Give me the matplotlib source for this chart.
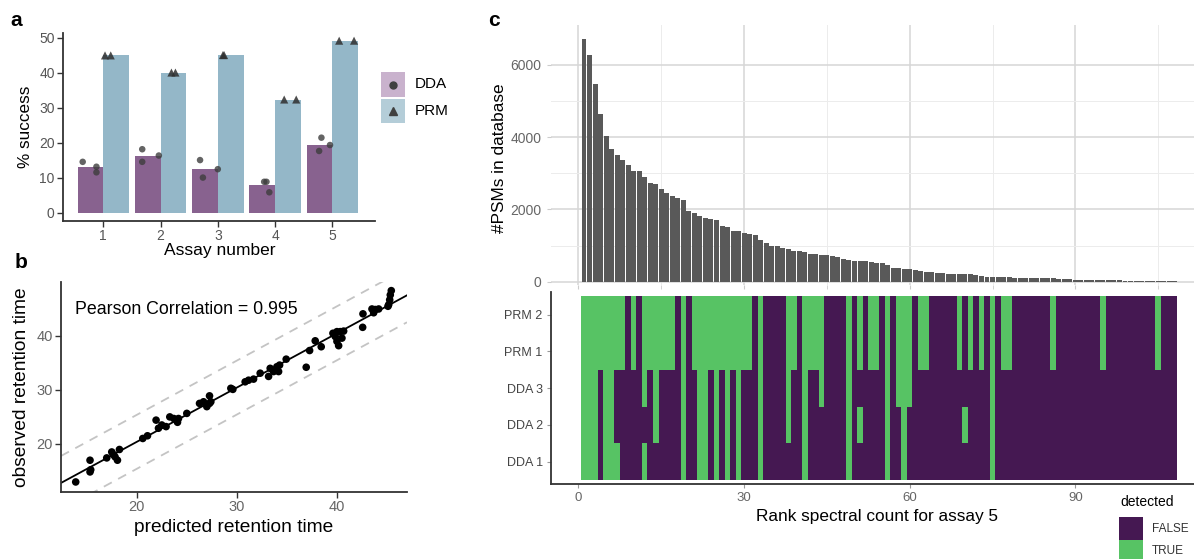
import numpy as np
import matplotlib
matplotlib.use('Agg')
import matplotlib.pyplot as plt
from matplotlib.colors import ListedColormap
from matplotlib.patches import Rectangle
from matplotlib.lines import Line2D

plt.rcParams['font.family'] = ['Liberation Sans', 'DejaVu Sans']

# ---------------- data ----------------
# panel a
assays = [1, 2, 3, 4, 5]
dda_reps = [[14.5, 13.1, 11.5], [18.1, 14.5, 16.3], [15.0, 10.0, 12.4], [8.8, 8.8, 5.8], [21.4, 17.6, 19.3]]
dda_jitter = [[-0.36, -0.12, -0.12], [-0.32, -0.32, -0.03], [-0.31, -0.26, 0.0], [-0.19, -0.15, -0.10], [-0.19, -0.23, -0.04]]
prm_reps = [[44.9, 44.9], [40.0, 40.0], [45.0, 45.0], [32.3, 32.3], [49.1, 49.1]]
prm_jitter = [[0.03, 0.13], [0.19, 0.26], [0.09, 0.11], [0.16, 0.37], [0.12, 0.38]]

# panel b
pred = [13.9, 15.33, 15.33, 15.4, 17.0, 17.5, 17.67, 18.07, 18.27, 17.83, 20.6, 21.07, 21.93, 22.17, 22.5,
        22.93, 23.3, 23.7, 24.07, 24.17, 25.0, 26.27, 26.67, 27.0, 27.27, 27.4, 27.27, 29.4, 29.6, 30.83, 31.17,
        31.67, 32.33, 33.17, 33.33, 33.67, 34.0, 34.27, 34.17, 34.93, 36.93, 37.27, 37.83, 38.43, 39.6, 39.83,
        40.0, 40.17, 40.33, 40.67, 40.5, 40.0, 42.6, 42.57, 43.5, 43.67, 43.83, 44.17, 45.17, 45.27, 45.33,
        45.43, 45.1]
obs = [12.94, 14.8, 16.97, 15.2, 17.4, 18.5, 18.0, 16.97, 18.96, 17.6, 21.0, 21.5, 24.4, 22.9, 23.5,
       23.2, 25.0, 24.7, 24.0, 24.7, 25.65, 27.5, 27.8, 26.9, 28.9, 27.8, 27.5, 30.3, 30.1, 31.5, 31.8,
       32.0, 33.1, 32.5, 34.0, 33.4, 34.3, 34.6, 33.4, 35.7, 34.2, 37.3, 39.1, 38.0, 40.5, 39.9,
       39.0, 38.2, 40.8, 40.9, 39.6, 40.8, 44.1, 41.6, 45.0, 44.3, 44.9, 45.0, 45.8, 46.7, 47.6,
       48.4, 45.5]
pearson_label = "Pearson Correlation = 0.995"

# panel c
psm_counts = [6720, 6260, 5470, 4630, 4030, 3660, 3500, 3360, 3220, 3060,
              3050, 2900, 2730, 2700, 2560, 2460, 2360, 2320, 2250, 1960,
              1890, 1810, 1750, 1740, 1700, 1540, 1500, 1410, 1400, 1360,
              1310, 1290, 1150, 1060, 990, 980, 920, 900, 860, 850,
              810, 780, 760, 740, 730, 720, 690, 630, 600, 580,
              575, 570, 540, 530, 525, 455, 390, 373, 364, 345,
              318, 300, 255, 255, 250, 250, 210, 209, 205, 205,
              200, 190, 145, 136, 135, 127, 118, 118, 116, 109,
              108, 100, 100, 99, 91, 90, 82, 73, 64, 55,
              55, 54, 45, 45, 44, 36, 36, 35, 27, 26,
              25, 25, 24, 23, 18, 18, 17, 16]
ranks = np.arange(1, len(psm_counts) + 1)
row_labels = ['DDA 1', 'DDA 2', 'DDA 3', 'PRM 1', 'PRM 2']
green_dda1 = [1, 2, 3, 5, 6, 7, 12, 19, 22, 23, 25, 27, 29, 33, 41, 49, 56, 59, 75]
green_dda2 = [1, 2, 3, 5, 6, 14, 19, 22, 23, 25, 27, 29, 33, 38, 41, 49, 51, 56, 59, 70, 75]
green_dda3 = [1, 2, 3, 5, 6, 12, 14, 19, 22, 23, 25, 27, 29, 33, 38, 41, 44, 49, 56, 58, 59, 60, 75]
green_prm = [1, 2, 3, 4, 5, 6, 7, 8, 10, 12, 13, 14, 15, 16, 17, 19, 21, 22, 23, 24, 25, 26, 27, 28, 29,
             30, 31, 33, 38, 39, 41, 42, 43, 44, 49, 51, 53, 54, 56, 58, 59, 60, 62, 63, 69, 71, 73, 75,
             77, 78, 86, 95, 105]
green_prm1 = list(green_prm)
green_prm2 = list(green_prm)

# ---------------- layout helpers ----------------
W, H = 1194, 559
fig = plt.figure(figsize=(W / 100, H / 100), dpi=100)


def box(l, t, r, b):
    return [l / W, 1 - b / H, (r - l) / W, (b - t) / H]


def fx(px):
    return px / W


def fy(py):
    return 1 - py / H


SP = '#333333'
TICKC = '#555555'

# ---------------- panel a ----------------
axA = fig.add_axes(box(63, 33, 375, 221))
dda_mean = [np.mean(r) for r in dda_reps]
prm_mean = [np.mean(r) for r in prm_reps]
xa = np.array(assays, dtype=float)
axA.bar(xa - 0.225, dda_mean, width=0.45, color='#88628F', zorder=1)
axA.bar(xa + 0.225, prm_mean, width=0.45, color='#94B7C8', zorder=1)
for i, a in enumerate(assays):
    axA.scatter([a + j for j in dda_jitter[i]], dda_reps[i], s=22, color='#3d3d3d', alpha=0.8,
                edgecolors='none', zorder=3)
    axA.scatter([a + j for j in prm_jitter[i]], prm_reps[i], s=34, marker='^', color='#2f2f2f',
                alpha=0.85, edgecolors='none', zorder=3)
axA.set_xlim(0.296, 5.746)
axA.set_ylim(-2.4, 51.3)
axA.set_xticks(assays)
axA.set_yticks([0, 10, 20, 30, 40, 50])
for s in ['top', 'right']:
    axA.spines[s].set_visible(False)
for s in ['left', 'bottom']:
    axA.spines[s].set_color(SP)
    axA.spines[s].set_linewidth(1.3)
axA.tick_params(length=4, width=1, color=SP, labelcolor=TICKC, labelsize=10, pad=2)
fig.text(fx(220), fy(251), 'Assay number', ha='center', va='center', fontsize=12.5)
fig.text(fx(26), fy(127), '% success', ha='center', va='center', rotation=90, fontsize=12.3)

# legend a
for (t, b, col, mk, lab) in [(72, 97, '#C9B2CD', 'o', 'DDA'), (99, 123, '#B4CDD8', '^', 'PRM')]:
    fig.add_artist(Rectangle((fx(381), fy(b)), (405 - 381) / W, (b - t) / H, transform=fig.transFigure,
                             facecolor=col, edgecolor='none'))
    fig.add_artist(Line2D([fx(393)], [fy((t + b) / 2)], marker=mk, markersize=5 if mk == 'o' else 6,
                          color='#404040', linestyle='none', transform=fig.transFigure))
    fig.text(fx(415), fy((t + b) / 2), lab, ha='left', va='center', fontsize=11)

# ---------------- panel b ----------------
axB = fig.add_axes(box(61, 282, 407, 492))
axB.scatter(pred, obs, s=30, color='black', edgecolors='none', zorder=3)
coef = np.polyfit(pred, obs, 1)
xl = np.array([12.43, 47.0])
axB.plot(xl, np.polyval(coef, xl), color='black', lw=1.3, zorder=2)
axB.plot(xl, np.polyval(coef, xl) + 5, color='#C4C4C4', lw=1.3, dashes=(5, 4), zorder=1)
axB.plot(xl, np.polyval(coef, xl) - 5, color='#C4C4C4', lw=1.3, dashes=(5, 4), zorder=1)
axB.set_xlim(12.43, 47.0)
axB.set_ylim(11.08, 50.0)
axB.set_xticks([20, 30, 40])
axB.set_yticks([20, 30, 40])
for s in ['top', 'right']:
    axB.spines[s].set_visible(False)
for s in ['left', 'bottom']:
    axB.spines[s].set_color(SP)
    axB.spines[s].set_linewidth(1.3)
axB.tick_params(length=4, width=1, color=SP, labelcolor='#666666', labelsize=10.5, pad=2)
axB.text(13.83, 44.85, pearson_label, ha='left', va='center', fontsize=12.8)
fig.text(fx(234), fy(528), 'predicted retention time', ha='center', va='center', fontsize=13.8)
fig.text(fx(22), fy(387), 'observed retention time', ha='center', va='center', rotation=90, fontsize=13.8)

# ---------------- panel c (bars) ----------------
XL = (-4.98, 111.5)
axC1 = fig.add_axes(box(551, 25, 1194, 285))
axC1.bar(ranks, psm_counts, width=0.9, color='#595959', zorder=2)
axC1.set_xlim(*XL)
axC1.set_ylim(-91, 7100)
axC1.set_xticks([0, 30, 60, 90])
axC1.set_xticks([15, 45, 75, 105], minor=True)
axC1.set_yticks([0, 2000, 4000, 6000])
axC1.set_yticks([1000, 3000, 5000], minor=True)
axC1.grid(which='major', color='#D6D6D6', lw=1.1)
axC1.grid(which='minor', color='#ECECEC', lw=0.7)
axC1.set_axisbelow(True)
for s in axC1.spines.values():
    s.set_visible(False)
axC1.tick_params(axis='x', which='both', length=3, color='#CCCCCC', labelbottom=False)
axC1.tick_params(axis='y', which='major', length=3, color='#CCCCCC', labelcolor='#666666', labelsize=10, pad=4)
axC1.tick_params(axis='y', which='minor', length=0)
fig.text(fx(499), fy(158), '#PSMs in database', ha='center', va='center', rotation=90, fontsize=12.4)

# ---------------- panel c (heatmap) ----------------
axC2 = fig.add_axes(box(551, 292, 1194, 484))
n = len(psm_counts)
rows_green = [green_dda1, green_dda2, green_dda3, green_prm1, green_prm2]
mat = np.zeros((5, n))
for r, g in enumerate(rows_green):
    for c in g:
        mat[r, c - 1] = 1
cmap = ListedColormap(['#451852', '#57C364'])
xe = np.arange(0.5, n + 1.0, 1.0)
ye = np.arange(0.5, 6.0, 1.0)
axC2.pcolormesh(xe, ye, mat, cmap=cmap, vmin=0, vmax=1, shading='flat', edgecolors='none',
                antialiased=False)
axC2.set_xlim(*XL)
axC2.set_ylim(0.389, 5.62)
axC2.set_xticks([0, 30, 60, 90])
axC2.set_yticks([1, 2, 3, 4, 5])
axC2.set_yticklabels(row_labels)
for s in ['top', 'right']:
    axC2.spines[s].set_visible(False)
for s in ['left', 'bottom']:
    axC2.spines[s].set_color(SP)
    axC2.spines[s].set_linewidth(1.3)
axC2.tick_params(axis='x', length=3, color='#999999', labelcolor='#666666', labelsize=9.5, pad=3)
axC2.tick_params(axis='y', length=3, color='#999999', labelcolor='#444444', labelsize=9, pad=3)
fig.text(fx(877), fy(517), 'Rank spectral count for assay 5', ha='center', va='center', fontsize=12.4)

# legend c
fig.text(fx(1120), fy(502), 'detected', ha='left', va='center', fontsize=10)
for (t, b, col, lab) in [(517, 540, '#451852', 'FALSE'), (540, 563, '#57C364', 'TRUE')]:
    fig.add_artist(Rectangle((fx(1119), fy(b)), (1143 - 1119) / W, (b - t) / H, transform=fig.transFigure,
                             facecolor=col, edgecolor='none'))
    fig.text(fx(1152), fy((t + b) / 2), lab, ha='left', va='center', fontsize=8.5, color='#333333')

# panel letters
fig.text(fx(16), fy(21), 'a', ha='center', va='center', fontsize=15, fontweight='bold')
fig.text(fx(21), fy(263), 'b', ha='center', va='center', fontsize=15, fontweight='bold')
fig.text(fx(494), fy(21), 'c', ha='center', va='center', fontsize=15, fontweight='bold')

fig.savefig('out.png', dpi=100)
